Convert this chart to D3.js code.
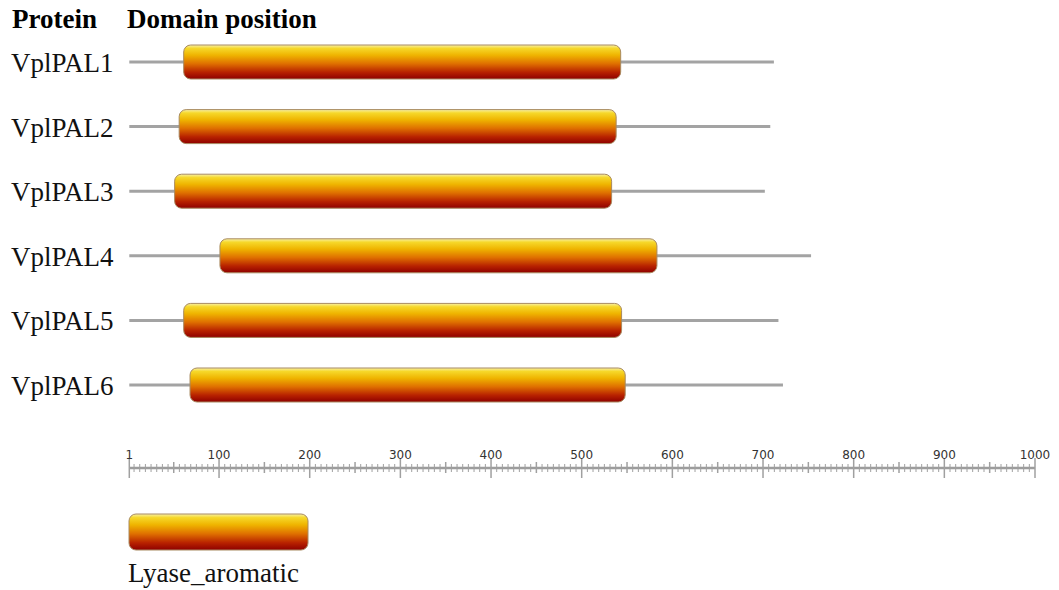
<!DOCTYPE html>
<html lang="en">
<head>
    <meta charset="UTF-8">
    <title>Domain position</title>
    <script src="https://d3js.org/d3.v7.min.js"></script>
    <style>
        body { margin: 0; background: #fff; }
    </style>
</head>
<body>
    <svg id="chart" width="1059" height="590"></svg>

    <script>
        // datos
        const proteins = ["VplPAL1", "VplPAL2", "VplPAL3", "VplPAL4", "VplPAL5", "VplPAL6"];
        const lengths = [712, 708, 702, 753, 717, 722];
        const domainStart = [61, 56, 51, 101, 61, 68];
        const domainEnd = [543, 538, 533, 583, 544, 548];
        const tickLabels = [1, 100, 200, 300, 400, 500, 600, 700, 800, 900, 1000];
        const domainName = "Lyase_aromatic";

        const svg = d3.select("#chart");
        const serif = "'Liberation Serif', 'Times New Roman', serif";

        // escalas
        const x = d3.scaleLinear().domain([1, 1000]).range([129.3, 1035]);
        const y = d3.scalePoint().domain(proteins).range([62, 385]);
        const barH = 34;

        // degradado de los dominios
        const defs = svg.append("defs");
        const grad = defs.append("linearGradient")
            .attr("id", "dom").attr("x1", 0).attr("y1", 0).attr("x2", 0).attr("y2", 1);
        [[0, "#f8f0a8"], [0.1, "#f6d82a"], [0.3, "#efb400"], [0.55, "#df7000"],
         [0.8, "#b82200"], [1, "#8e0000"]].forEach(s => {
            grad.append("stop").attr("offset", s[0]).attr("stop-color", s[1]);
        });

        // cabecera
        svg.append("text").attr("x", 12).attr("y", 28)
            .attr("font-family", serif).attr("font-weight", "bold").attr("font-size", 27)
            .text("Protein");
        svg.append("text").attr("x", 127).attr("y", 28)
            .attr("font-family", serif).attr("font-weight", "bold").attr("font-size", 27)
            .text("Domain position");

        const rows = proteins.map((p, i) => ({
            name: p, len: lengths[i], s: domainStart[i], e: domainEnd[i]
        }));

        const g = svg.append("g").selectAll("g").data(rows).join("g");

        g.append("text")
            .attr("x", 11).attr("y", d => y(d.name) + 10)
            .attr("font-family", serif).attr("font-size", 27)
            .attr("fill", "#111")
            .text(d => d.name);

        g.append("line")
            .attr("x1", x(1)).attr("x2", d => x(d.len))
            .attr("y1", d => y(d.name)).attr("y2", d => y(d.name))
            .attr("stroke", "#a3a3a3").attr("stroke-width", 3);

        g.append("rect")
            .attr("x", d => x(d.s)).attr("width", d => x(d.e) - x(d.s))
            .attr("y", d => y(d.name) - barH / 2).attr("height", barH)
            .attr("rx", 7).attr("ry", 7)
            .attr("fill", "url(#dom)")
            .attr("stroke", "#a88a60").attr("stroke-width", 1);

        // eje de posiciones
        const axisY = 468;
        const ax = svg.append("g");
        ax.append("line")
            .attr("x1", x(1)).attr("x2", x(1000))
            .attr("y1", axisY).attr("y2", axisY)
            .attr("stroke", "#9c9c9c").attr("stroke-width", 2.5);

        const minor = d3.range(0, 1000.1, 6.25);
        ax.selectAll("line.t").data(minor).join("line")
            .attr("class", "t")
            .attr("x1", d => x(Math.max(d, 1))).attr("x2", d => x(Math.max(d, 1)))
            .attr("y1", d => d % 100 === 0 ? axisY - 10 : d % 50 === 0 ? axisY - 6 : axisY - 4)
            .attr("y2", d => d % 100 === 0 ? axisY + 10 : d % 50 === 0 ? axisY + 5 : axisY + 4)
            .attr("stroke", "#a0a0a0")
            .attr("stroke-width", d => d % 50 === 0 ? 1.5 : 1);

        ax.selectAll("text").data(tickLabels).join("text")
            .attr("x", d => x(d)).attr("y", 459)
            .attr("text-anchor", "middle")
            .attr("font-family", "'DejaVu Sans', Verdana, sans-serif")
            .attr("font-size", 12).attr("fill", "#333")
            .text(d => d);

        // leyenda
        svg.append("rect")
            .attr("x", 129).attr("y", 514).attr("width", 179).attr("height", 36)
            .attr("rx", 7).attr("ry", 7)
            .attr("fill", "url(#dom)")
            .attr("stroke", "#a88a60").attr("stroke-width", 1);
        svg.append("text").attr("x", 128).attr("y", 582)
            .attr("font-family", serif).attr("font-size", 27).attr("fill", "#111")
            .text(domainName);
    </script>
</body>
</html>
